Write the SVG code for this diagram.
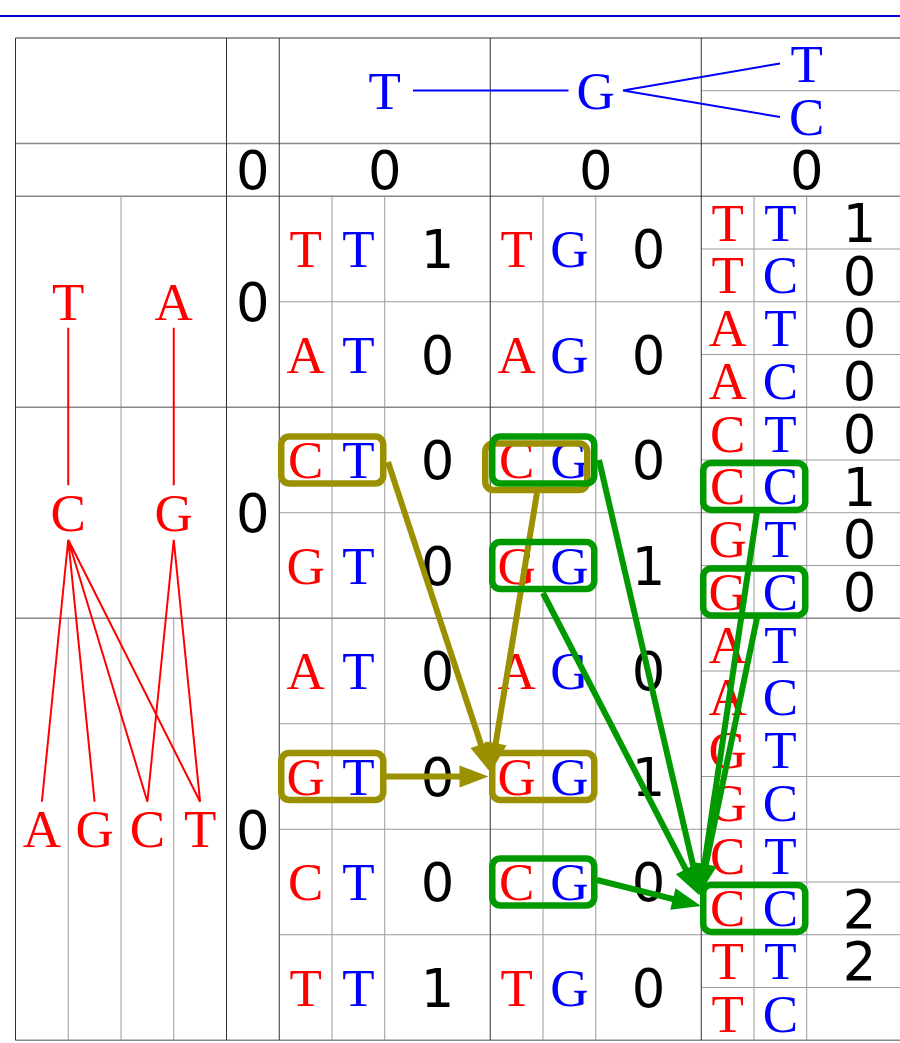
<svg xmlns="http://www.w3.org/2000/svg" width="900" height="1043" viewBox="0 0 900 1043">
<style>
.dk{stroke:#333;stroke-width:1;fill:none}
.md{stroke:#888;stroke-width:1.5;fill:none}
.lt{stroke:#9a9a9a;stroke-width:1;fill:none}
.L{font-family:"Liberation Serif","Times New Roman",serif;font-size:53px;text-anchor:middle}
.r{fill:#f00}
.b{fill:#00f}
.n{font-family:"DejaVu Sans",sans-serif;font-size:52.75px;text-anchor:middle;fill:#000}
.tr{stroke:#f00;stroke-width:2;fill:none}
.tb{stroke:#00f;stroke-width:2;fill:none}
.ob{fill:none;stroke:#9a9000;stroke-width:6.5}
.gb{fill:none;stroke:#009900;stroke-width:6.5}
.oa{stroke:#9a9000;stroke-width:6;fill:none;marker-end:url(#ao)}
.ga{stroke:#009900;stroke-width:6;fill:none;marker-end:url(#ag)}
</style>
<defs>
<marker id="ao" markerUnits="userSpaceOnUse" markerWidth="30" markerHeight="22" refX="19" refY="11" orient="auto" viewBox="0 0 30 22" overflow="visible"><path d="M0,0 L29,11 L0,22 z" fill="#9a9000"/></marker>
<marker id="ag" markerUnits="userSpaceOnUse" markerWidth="30" markerHeight="22" refX="19" refY="11" orient="auto" viewBox="0 0 30 22" overflow="visible"><path d="M0,0 L29,11 L0,22 z" fill="#009900"/></marker>
</defs>
<rect width="900" height="1043" fill="#fff"/>
<line x1="0" y1="16" x2="900" y2="16" stroke="#0000d8" stroke-width="2"/>

<g id="grid">
<path class="lt" d="M121,196.25V1040.25 M68.25,618.25V1040.25 M173.75,618.25V1040.25
M332,196.25V1040.25 M384.75,196.25V1040.25 M543,196.25V1040.25 M595.75,196.25V1040.25
M754,196.25V1040.25 M806.75,196.25V1040.25
M279.25,301.75H701.25 M279.25,512.75H701.25 M279.25,723.75H701.25 M279.25,829.25H701.25 M279.25,934.75H701.25
M701.25,90.75H900 M701.25,249H900 M701.25,301.75H900 M701.25,354.5H900 M701.25,460H900 M701.25,512.75H900 M701.25,565.5H900
M701.25,671H900 M701.25,723.75H900 M701.25,776.5H900 M701.25,829.25H900 M701.25,882H900 M701.25,934.75H900 M701.25,987.5H900"/>
<path class="md" d="M15.5,143.5H900 M15.5,196.25H900 M15.5,407.25H900 M15.5,618.25H900 M15.5,1040.25H900"/>
<path class="dk" d="M15.5,38H900 M15.5,38V1040.25 M226.5,38V1040.25 M279.25,38V1040.25 M490.25,38V1040.25 M701.25,38V1040.25"/>
</g>

<g id="connectors">
<path class="tb" d="M413,90.5H568.5 M623,90.5L780,63.5 M623,90.5L780,117"/>
<path class="tr" d="M68.25,327.75V485.25 M173.75,327.75V485.25
M68.25,539.75L41.9,801.75 M68.25,539.75L94.6,801.75 M68.25,539.75L147.4,801.75 M68.25,539.75L200.1,801.75
M173.75,539.75L147.4,801.75 M173.75,539.75L200.1,801.75"/>
</g>

<g id="query-tree">
<g id="q-T"><text class="L b" x="384.75" y="108.75">T</text></g>
<g id="q-G"><text class="L b" x="595.75" y="108.75">G</text></g>
<g id="q-T2"><text class="L b" x="806.75" y="82.4">T</text></g>
<g id="q-C2"><text class="L b" x="806.75" y="135.1">C</text></g>
</g>

<g id="ref-tree">
<g id="r-T"><text class="L r" x="68.25" y="319.75">T</text></g>
<g id="r-A"><text class="L r" x="173.75" y="319.75">A</text></g>
<g id="r-C"><text class="L r" x="68.25" y="530.75">C</text></g>
<g id="r-G"><text class="L r" x="173.75" y="530.75">G</text></g>
<g id="r-A2"><text class="L r" x="41.9" y="847.25">A</text></g>
<g id="r-G2"><text class="L r" x="94.6" y="847.25">G</text></g>
<g id="r-C2"><text class="L r" x="147.4" y="847.25">C</text></g>
<g id="r-T2"><text class="L r" x="200.1" y="847.25">T</text></g>
</g>

<g id="scores-head">
<text class="n" x="252.9" y="189.1">0</text>
<text class="n" x="384.75" y="189.1">0</text>
<text class="n" x="595.75" y="189.1">0</text>
<text class="n" x="806.75" y="189.1">0</text>
<text class="n" x="252.9" y="321">0</text>
<text class="n" x="252.9" y="532">0</text>
<text class="n" x="252.9" y="848.5">0</text>
</g>

<g id="col-T">
<g id="t1"><text class="L r" x="305.6" y="267">T</text><text class="L b" x="358.4" y="267">T</text><text class="n" x="437.5" y="268.2">1</text></g>
<g id="t2"><text class="L r" x="305.6" y="372.5">A</text><text class="L b" x="358.4" y="372.5">T</text><text class="n" x="437.5" y="373.7">0</text></g>
<g id="t3"><text class="L r" x="305.6" y="478">C</text><text class="L b" x="358.4" y="478">T</text><text class="n" x="437.5" y="479.2">0</text></g>
<g id="t4"><text class="L r" x="305.6" y="583.5">G</text><text class="L b" x="358.4" y="583.5">T</text><text class="n" x="437.5" y="584.7">0</text></g>
<g id="t5"><text class="L r" x="305.6" y="689">A</text><text class="L b" x="358.4" y="689">T</text><text class="n" x="437.5" y="690.2">0</text></g>
<g id="t6"><text class="L r" x="305.6" y="794.5">G</text><text class="L b" x="358.4" y="794.5">T</text><text class="n" x="437.5" y="795.7">0</text></g>
<g id="t7"><text class="L r" x="305.6" y="900">C</text><text class="L b" x="358.4" y="900">T</text><text class="n" x="437.5" y="901.2">0</text></g>
<g id="t8"><text class="L r" x="305.6" y="1005.5">T</text><text class="L b" x="358.4" y="1005.5">T</text><text class="n" x="437.5" y="1006.7">1</text></g>
</g>

<g id="col-G">
<g id="g1"><text class="L r" x="516.6" y="267">T</text><text class="L b" x="569.4" y="267">G</text><text class="n" x="648.5" y="268.2">0</text></g>
<g id="g2"><text class="L r" x="516.6" y="372.5">A</text><text class="L b" x="569.4" y="372.5">G</text><text class="n" x="648.5" y="373.7">0</text></g>
<g id="g3"><text class="L r" x="516.6" y="478">C</text><text class="L b" x="569.4" y="478">G</text><text class="n" x="648.5" y="479.2">0</text></g>
<g id="g4"><text class="L r" x="516.6" y="583.5">G</text><text class="L b" x="569.4" y="583.5">G</text><text class="n" x="648.5" y="584.7">1</text></g>
<g id="g5"><text class="L r" x="516.6" y="689">A</text><text class="L b" x="569.4" y="689">G</text><text class="n" x="648.5" y="690.2">0</text></g>
<g id="g6"><text class="L r" x="516.6" y="794.5">G</text><text class="L b" x="569.4" y="794.5">G</text><text class="n" x="648.5" y="795.7">1</text></g>
<g id="g7"><text class="L r" x="516.6" y="900">C</text><text class="L b" x="569.4" y="900">G</text><text class="n" x="648.5" y="901.2">0</text></g>
<g id="g8"><text class="L r" x="516.6" y="1005.5">T</text><text class="L b" x="569.4" y="1005.5">G</text><text class="n" x="648.5" y="1006.7">0</text></g>
</g>

<g id="col-TC">
<g id="c1"><text class="L r" x="727.6" y="240.6">T</text><text class="L b" x="780.4" y="240.6">T</text><text class="n" x="859.5" y="241.8">1</text></g>
<g id="c2"><text class="L r" x="727.6" y="293.4">T</text><text class="L b" x="780.4" y="293.4">C</text><text class="n" x="859.5" y="294.6">0</text></g>
<g id="c3"><text class="L r" x="727.6" y="346.1">A</text><text class="L b" x="780.4" y="346.1">T</text><text class="n" x="859.5" y="347.3">0</text></g>
<g id="c4"><text class="L r" x="727.6" y="398.9">A</text><text class="L b" x="780.4" y="398.9">C</text><text class="n" x="859.5" y="400.1">0</text></g>
<g id="c5"><text class="L r" x="727.6" y="451.6">C</text><text class="L b" x="780.4" y="451.6">T</text><text class="n" x="859.5" y="452.8">0</text></g>
<g id="c6"><text class="L r" x="727.6" y="504.4">C</text><text class="L b" x="780.4" y="504.4">C</text><text class="n" x="859.5" y="505.6">1</text></g>
<g id="c7"><text class="L r" x="727.6" y="557.1">G</text><text class="L b" x="780.4" y="557.1">T</text><text class="n" x="859.5" y="558.3">0</text></g>
<g id="c8"><text class="L r" x="727.6" y="609.9">G</text><text class="L b" x="780.4" y="609.9">C</text><text class="n" x="859.5" y="611.1">0</text></g>
<g id="c9"><text class="L r" x="727.6" y="662.6">A</text><text class="L b" x="780.4" y="662.6">T</text></g>
<g id="c10"><text class="L r" x="727.6" y="715.4">A</text><text class="L b" x="780.4" y="715.4">C</text></g>
<g id="c11"><text class="L r" x="727.6" y="768.1">G</text><text class="L b" x="780.4" y="768.1">T</text></g>
<g id="c12"><text class="L r" x="727.6" y="820.9">G</text><text class="L b" x="780.4" y="820.9">C</text></g>
<g id="c13"><text class="L r" x="727.6" y="873.6">C</text><text class="L b" x="780.4" y="873.6">T</text></g>
<g id="c14"><text class="L r" x="727.6" y="926.4">C</text><text class="L b" x="780.4" y="926.4">C</text><text class="n" x="859.5" y="927.6">2</text></g>
<g id="c15"><text class="L r" x="727.6" y="979.1">T</text><text class="L b" x="780.4" y="979.1">T</text><text class="n" x="859.5" y="980.3">2</text></g>
<g id="c16"><text class="L r" x="727.6" y="1031.9">T</text><text class="L b" x="780.4" y="1031.9">C</text></g>
</g>

<g id="olive-path">
<rect class="ob" x="281.25" y="436.5" width="102" height="47" rx="8"/>
<rect class="ob" x="485.25" y="443.5" width="102" height="46.5" rx="8"/>
<rect class="ob" x="281.25" y="753" width="102" height="47" rx="8"/>
<rect class="ob" x="492.25" y="753" width="102" height="47" rx="8"/>
<path class="oa" d="M388,462L486.9,762.5"/>
<path class="oa" d="M537,493L492.6,762.1"/>
<path class="oa" d="M386,776.5H478.5"/>
</g>

<g id="green-path">
<rect class="gb" x="492.25" y="436.5" width="102" height="47" rx="8"/>
<rect class="gb" x="492.25" y="542" width="102" height="47" rx="8"/>
<rect class="gb" x="492.25" y="858.5" width="102" height="47" rx="8"/>
<rect class="gb" x="703.25" y="462.9" width="102" height="47" rx="8"/>
<rect class="gb" x="703.25" y="568.4" width="102" height="47" rx="8"/>
<rect class="gb" x="703.25" y="884.9" width="102" height="47" rx="8"/>
<path class="ga" d="M599,460L697.7,885.3"/>
<path class="ga" d="M543,593L694.4,886.1"/>
<path class="ga" d="M757,512L701.5,883.1"/>
<path class="ga" d="M757,618L702,883.2"/>
<path class="ga" d="M597,880L691.3,903.6"/>
</g>
</svg>
